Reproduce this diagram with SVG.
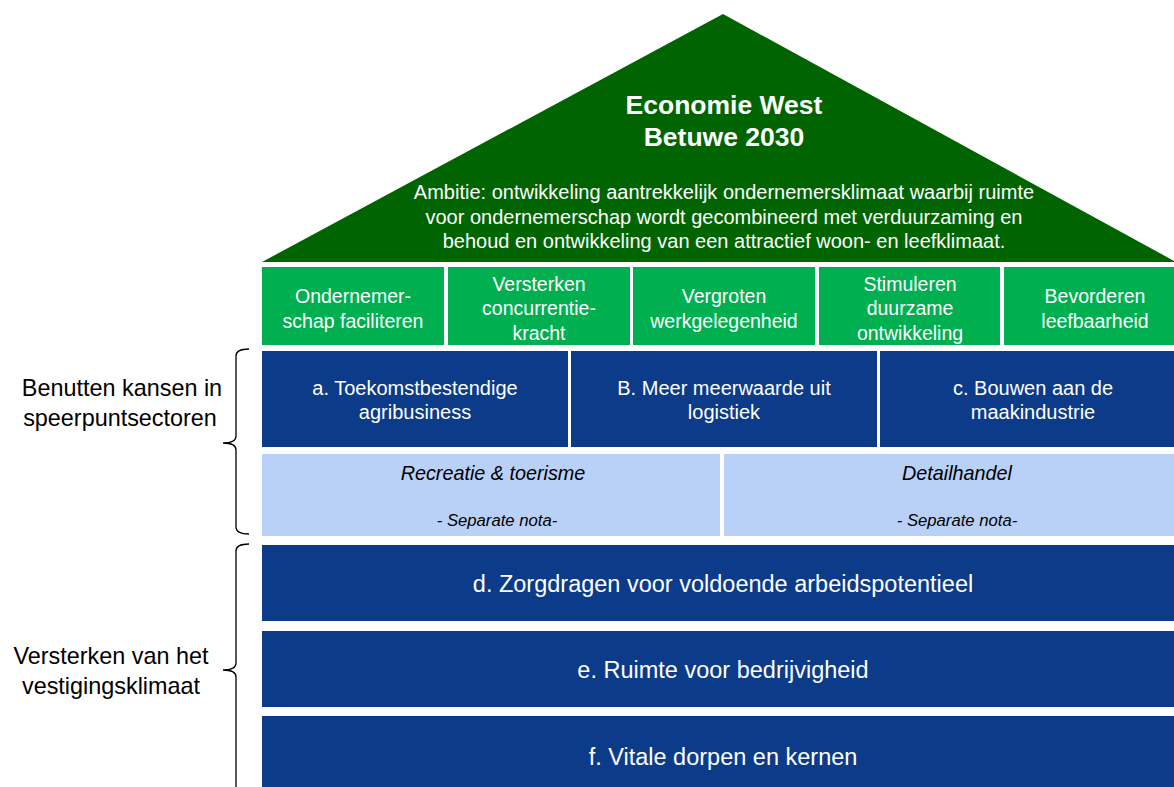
<svg xmlns="http://www.w3.org/2000/svg" width="1174" height="787" viewBox="0 0 1174 787">
<style>
text{font-family:"Liberation Sans",Arial,sans-serif;text-anchor:middle;}
.g{fill:#00B050;}
.b{fill:#0C3B89;}
.l{fill:#B9D0F7;}
.ttl{font-size:26.5px;font-weight:bold;fill:#fff;}
.amb{font-size:20px;fill:#fff;}
.t16{font-size:19.5px;fill:#fff;}
.t17{font-size:20px;fill:#fff;}
.t19{font-size:23.5px;fill:#fff;}
.it{font-size:19.8px;font-style:italic;fill:#000;}
.it2{font-size:16.7px;font-style:italic;fill:#000;}
.lab{font-size:23.4px;fill:#000;}
.brace{fill:none;stroke:#000;stroke-width:1.3;}
</style>
<rect width="1174" height="787" fill="#fff"/>
<g id="roof">
<polygon points="723,14 262,262 1176,262" fill="#006400"/>
<text x="724" y="114" class="ttl">Economie West</text>
<text x="724" y="146" class="ttl">Betuwe 2030</text>
<text x="724" y="199" class="amb">Ambitie: ontwikkeling aantrekkelijk ondernemersklimaat waarbij ruimte</text>
<text x="724" y="224" class="amb">voor ondernemerschap wordt gecombineerd met verduurzaming en</text>
<text x="724" y="248" class="amb">behoud en ontwikkeling van een attractief woon- en leefklimaat.</text>
</g>
<g id="g1"><rect class="g" x="262" y="267" width="182" height="78"/><text x="353" y="303" class="t16">Ondernemer-</text><text x="353" y="328" class="t16">schap faciliteren</text></g>
<g id="g2"><rect class="g" x="448" y="267" width="182" height="78"/><text x="539" y="291" class="t16">Versterken</text><text x="539" y="315" class="t16">concurrentie-</text><text x="539" y="340" class="t16">kracht</text></g>
<g id="g3"><rect class="g" x="633" y="267" width="182" height="78"/><text x="724" y="303" class="t16">Vergroten</text><text x="724" y="328" class="t16">werkgelegenheid</text></g>
<g id="g4"><rect class="g" x="819" y="267" width="181" height="78"/><text x="910" y="291" class="t16">Stimuleren</text><text x="910" y="315" class="t16">duurzame</text><text x="910" y="340" class="t16">ontwikkeling</text></g>
<g id="g5"><rect class="g" x="1004" y="267" width="170" height="78"/><text x="1095" y="303" class="t16">Bevorderen</text><text x="1095" y="328" class="t16">leefbaarheid</text></g>
<g id="a"><rect class="b" x="262" y="351" width="306" height="96"/><text x="415" y="395" class="t17">a. Toekomstbestendige</text><text x="415" y="419" class="t17">agribusiness</text></g>
<g id="bb"><rect class="b" x="571" y="351" width="306" height="96"/><text x="724" y="395" class="t17">B. Meer meerwaarde uit</text><text x="724" y="419" class="t17">logistiek</text></g>
<g id="c"><rect class="b" x="880" y="351" width="294" height="96"/><text x="1033" y="395" class="t17">c. Bouwen aan de</text><text x="1033" y="419" class="t17">maakindustrie</text></g>
<g id="rec"><rect class="l" x="262" y="454" width="458" height="82"/><text x="493" y="480" class="it">Recreatie &amp; toerisme</text><text x="497" y="526" class="it2">- Separate nota-</text></g>
<g id="det"><rect class="l" x="724" y="454" width="450" height="82"/><text x="957" y="480" class="it">Detailhandel</text><text x="957" y="526" class="it2">- Separate nota-</text></g>
<g id="d"><rect class="b" x="262" y="545" width="912" height="76"/><text x="723" y="592" class="t19">d. Zorgdragen voor voldoende arbeidspotentieel</text></g>
<g id="e"><rect class="b" x="262" y="631" width="912" height="76"/><text x="723" y="678" class="t19">e. Ruimte voor bedrijvigheid</text></g>
<g id="f"><rect class="b" x="262" y="716" width="912" height="76"/><text x="723" y="765" class="t19">f. Vitale dorpen en kernen</text></g>
<g id="labels">
<text x="122" y="396" class="lab">Benutten kansen in</text>
<text x="120" y="426" class="lab">speerpuntsectoren</text>
<text x="111" y="664" class="lab">Versterken van het</text>
<text x="111" y="694" class="lab">vestigingsklimaat</text>
</g>
<g id="connectors">
<path class="brace" d="M249,349 Q236,349 236,356 L236,436 Q236,443 223,443 Q236,443 236,450 L236,527 Q236,534 249,534"/>
<path class="brace" d="M249,544 Q236,544 236,551 L236,663 Q236,670 223,670 Q236,670 236,677 L236,790"/>
</g>
</svg>
